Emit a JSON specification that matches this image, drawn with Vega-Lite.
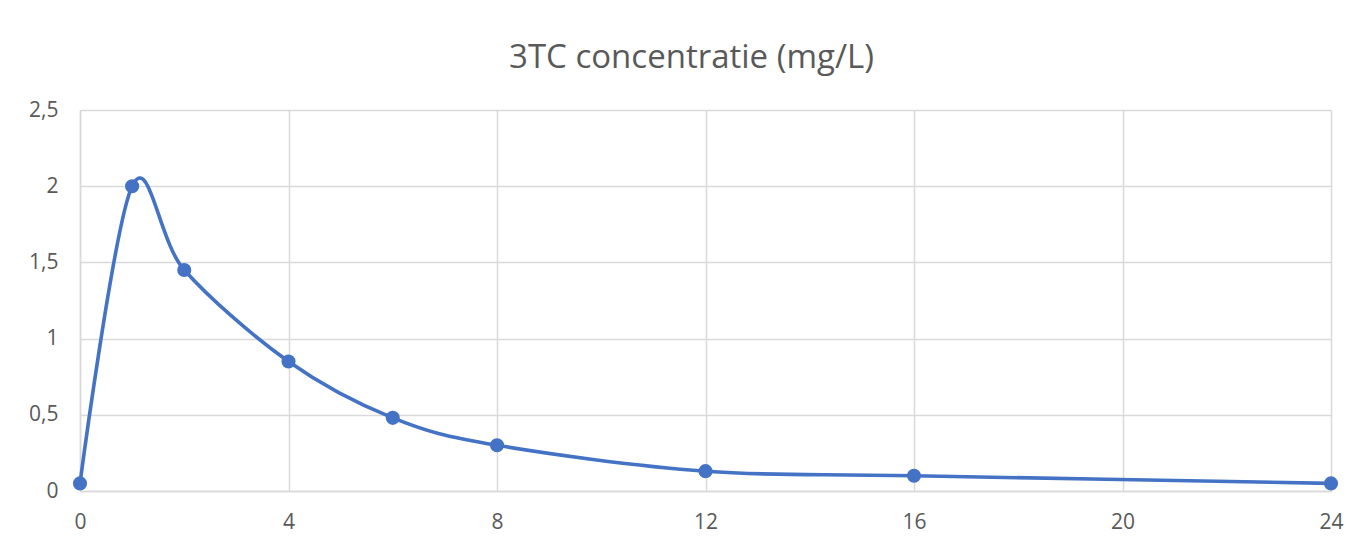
{
  "$schema": "https://vega.github.io/schema/vega-lite/v6.json",
  "autosize": "none",
  "width": 1251,
  "height": 381,
  "padding": {"left": 80, "top": 110, "right": 31, "bottom": 55},
  "background": "white",
  "config": {
    "locale": {"number": {"decimal": ",", "thousands": ".", "grouping": [3], "currency": ["€", ""]}},
    "view": {"stroke": null},
    "font": "Open Sans"
  },
  "title": {
    "text": "3TC concentratie (mg/L)",
    "fontSize": 33,
    "fontWeight": "normal",
    "color": "#595959",
    "font": "Open Sans",
    "anchor": "middle",
    "offset": 24,
    "dx": -14
  },
  "data": {
    "values": [
      {"t": 0, "c": 0.05},
      {"t": 1, "c": 2.0},
      {"t": 2, "c": 1.45},
      {"t": 4, "c": 0.85},
      {"t": 6, "c": 0.48},
      {"t": 8, "c": 0.30},
      {"t": 12, "c": 0.13},
      {"t": 16, "c": 0.10},
      {"t": 24, "c": 0.05}
    ]
  },
  "encoding": {
    "x": {
      "field": "t", "type": "quantitative",
      "scale": {"domain": [0, 24], "nice": false},
      "axis": {
        "title": null, "values": [0, 4, 8, 12, 16, 20, 24],
        "grid": true, "gridColor": "#d9d9d9", "gridWidth": 1.5,
        "domainColor": "#d9d9d9", "domainWidth": 1.5, "ticks": false,
        "labelFlush": false, "labelOverlap": false,
        "labelFontSize": 21, "labelColor": "#595959", "labelPadding": 20
      }
    },
    "y": {
      "field": "c", "type": "quantitative",
      "scale": {"domain": [0, 2.5], "nice": false},
      "axis": {
        "title": null, "values": [0, 0.5, 1, 1.5, 2, 2.5], "format": "~g",
        "grid": true, "gridColor": "#d9d9d9", "gridWidth": 1.5,
        "domainColor": "#d9d9d9", "domainWidth": 1.5, "ticks": false,
        "labelFlush": false, "labelOverlap": false,
        "labelFontSize": 21, "labelColor": "#595959", "labelPadding": 22
      }
    }
  },
  "layer": [
    {"mark": {"type": "line", "interpolate": "cardinal", "color": "#4472C4", "strokeWidth": 3.6}},
    {"mark": {"type": "circle", "color": "#4472C4", "opacity": 1, "size": 200}}
  ]
}
